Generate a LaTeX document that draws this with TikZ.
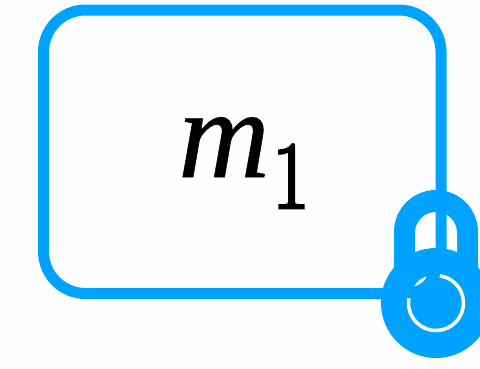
\documentclass[tikz,border=0pt]{standalone}
\usepackage{fontspec}
\setmainfont{Liberation Serif}
\newfontfamily\mfont[RawFeature={embolden=0.4}]{Liberation Serif}
\newfontfamily\onefont[RawFeature={embolden=3}]{Latin Modern Roman}
\definecolor{lockblue}{HTML}{00A2FF}
\tikzset{
  framebox/.style={draw=lockblue,line width=11pt,rounded corners=42pt,minimum width=397.5pt,minimum height=283.5pt,inner sep=0pt,outer sep=0pt},
  lockpart/.style={fill=lockblue,draw=none},
  gappart/.style={fill=white,draw=none},
}
\begin{document}
\begin{tikzpicture}[x=1pt,y=-1pt]
\useasboundingbox (0,0) rectangle (480,368);
\clip (0,0) rectangle (480,368);
\fill[white!99.5!black] (0,0) rectangle (480,368);
% shackle
\path[lockpart] (394,300) -- (394,232) arc[start angle=180,end angle=0,x radius=42,y radius=-42] -- (478,300) -- cycle;
\path[gappart] (415,270) -- (415,233) arc[start angle=180,end angle=0,x radius=21,y radius=-21] -- (457,270) -- cycle;
% frame
\node[framebox] (frame) at (242.25,151.75) {};
% lock body
\path[lockpart] (436,303) circle[radius=55];
\begin{scope}[shift={(436,303)},x=1pt,y=1pt]
\draw[white,line width=3.5pt] (82:27.5) arc[start angle=82,end angle=-190,radius=27.5];
\path[gappart] (143:27.5) .. controls (128:24) and (118:25) .. (109:28) .. controls (120:29) and (132:29) .. cycle;
\end{scope}
% label
\node[anchor=base west,inner sep=0pt] (label) at (178,177) {\fontsize{127}{127}\selectfont\mfont\itshape m};
\node[anchor=base west,inner sep=0pt,xscale=0.85,transform shape] (sub) at (272,208) {\fontsize{96}{96}\selectfont\onefont 1};
\end{tikzpicture}
\end{document}
